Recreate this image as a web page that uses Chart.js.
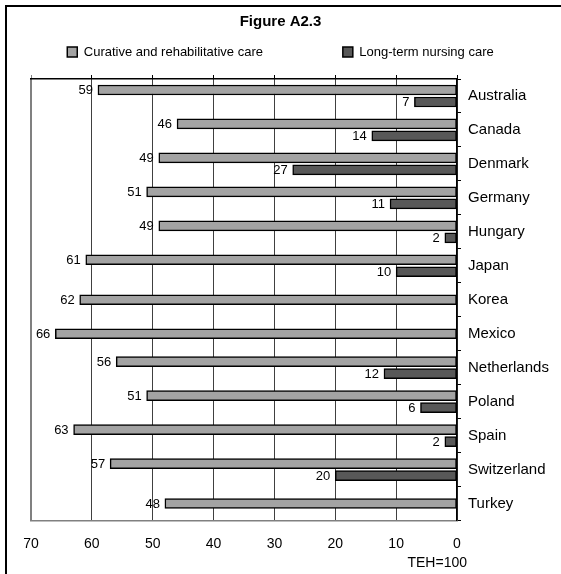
<!DOCTYPE html>
<html>
<head>
<meta charset="utf-8">
<script src="https://cdn.jsdelivr.net/npm/chart.js@4.4.1/dist/chart.umd.min.js"></script>
<style>
  html, body { margin: 0; padding: 0; background: #fff; }
  #wrap { position: relative; width: 561px; height: 574px; overflow: hidden; background: #fff; }
  #c { position: absolute; left: 0; top: 0; }
  #frame { position: absolute; left: 5px; top: 5px; width: 700px; height: 700px;
           border-left: 2px solid #000; border-top: 2px solid #000; box-sizing: border-box; pointer-events: none; }
</style>
</head>
<body>
<div id="wrap"><canvas id="c" width="561" height="574"></canvas><div id="frame"></div></div>
<script>
// ---- data ----
const chartTitle = 'Figure A2.3';
const countries = ['Australia', 'Canada', 'Denmark', 'Germany', 'Hungary', 'Japan', 'Korea',
                   'Mexico', 'Netherlands', 'Poland', 'Spain', 'Switzerland', 'Turkey'];
const seriesNames = ['Curative and rehabilitative care', 'Long-term nursing care'];
const curativeCare = [59, 46, 49, 51, 49, 61, 62, 66, 56, 51, 63, 57, 48];
const longTermCare = [7, 14, 27, 11, 2, 10, null, null, 12, 6, 2, 20, null];
const axisMin = 0, axisMax = 70, axisStep = 10;
const axisNote = 'TEH=100';

// ---- styling ----
const FONT = '"Liberation Sans", Arial, Helvetica, sans-serif';
Chart.defaults.font.family = FONT;
Chart.defaults.color = '#000';
const SLOT = 12;      // space reserved for each bar
const DRAWN = 10;     // drawn bar thickness (leaves a small gap between paired bars)
const PLOT_LEFT = 31; // left edge of the plot area
const Y_AXIS_WIDTH = 104;

const thinBars = {
  id: 'thinBars',
  beforeDatasetsDraw(chart) {
    chart.data.datasets.forEach((ds, di) => {
      chart.getDatasetMeta(di).data.forEach(el => { el.height = DRAWN; });
    });
  }
};

const valueLabels = {
  id: 'valueLabels',
  afterDatasetsDraw(chart) {
    const ctx = chart.ctx;
    ctx.save();
    ctx.font = '13px ' + FONT;
    ctx.fillStyle = '#000';
    ctx.textAlign = 'right';
    ctx.textBaseline = 'middle';
    chart.data.datasets.forEach((ds, di) => {
      const meta = chart.getDatasetMeta(di);
      meta.data.forEach((el, i) => {
        const v = ds.data[i];
        if (v === null || v === undefined) return;
        ctx.fillText(String(v), el.x - 5, el.y + 0.5);
      });
    });
    ctx.restore();
  }
};

const axisNoteLabel = {
  id: 'axisNoteLabel',
  afterDraw(chart) {
    const s = chart.scales.x;
    const ctx = chart.ctx;
    ctx.save();
    ctx.font = '14px ' + FONT;
    ctx.fillStyle = '#000';
    ctx.textAlign = 'right';
    ctx.textBaseline = 'middle';
    ctx.fillText(axisNote, s.right + 10, s.bottom + 10.7);
    ctx.restore();
  }
};

const SPACER = '\u00a0'.repeat(12);

new Chart(document.getElementById('c'), {
  type: 'bar',
  data: {
    labels: countries,
    datasets: [
      { label: seriesNames[0], data: curativeCare, backgroundColor: '#a3a3a3',
        borderColor: '#000', borderWidth: 1.5, borderSkipped: false,
        barThickness: SLOT, skipNull: true },
      { label: seriesNames[1], data: longTermCare, backgroundColor: '#585858',
        borderColor: '#000', borderWidth: 1.5, borderSkipped: false,
        barThickness: SLOT, skipNull: true }
    ]
  },
  options: {
    indexAxis: 'y',
    responsive: false,
    animation: false,
    devicePixelRatio: 1,
    layout: { padding: { left: 0, right: 0, top: 0, bottom: 21.7 } },
    scales: {
      x: {
        type: 'linear', position: 'bottom', reverse: true,
        min: axisMin, max: axisMax,
        afterFit: s => { s.paddingLeft = PLOT_LEFT; },
        ticks: { stepSize: axisStep, padding: 0, font: { size: 14 }, color: '#000' },
        grid: {
          drawOnChartArea: true, drawTicks: true, tickLength: 15,
          tickColor: 'rgba(0,0,0,0)',
          color: c => (c.tick && c.tick.value === axisMax) ? '#808080' : '#404040',
          lineWidth: c => (c.tick && c.tick.value === axisMax) ? 2 : 1
        },
        border: { display: true, color: '#808080', width: 1.5 }
      },
      x2: {
        type: 'linear', position: 'top', reverse: true,
        min: axisMin, max: axisMax,
        ticks: { stepSize: axisStep, padding: 0, callback: () => '',
                 font: { size: 5, lineHeight: 1.3 } },
        grid: {
          drawOnChartArea: false, drawTicks: true, tickLength: 4,
          color: c => (c.tick && c.tick.value === axisMax) ? '#808080' : '#000',
          lineWidth: 1
        },
        border: { display: true, color: '#000', width: 1.5 }
      },
      y: {
        type: 'category', position: 'right', offset: true,
        afterFit: s => { s.width = Y_AXIS_WIDTH; },
        ticks: { padding: 7, font: { size: 15 }, color: '#000' },
        grid: { drawOnChartArea: false, drawTicks: true, tickLength: 4,
                offset: true, color: '#000', lineWidth: 1 },
        border: { display: true, color: '#000', width: 1.5 }
      }
    },
    plugins: {
      title: {
        display: true, text: chartTitle, color: '#000',
        font: { size: 15, weight: 'bold' },
        padding: { top: 12.5, bottom: 5 }
      },
      legend: {
        display: true, position: 'top', align: 'center',
        onClick: () => {},
        labels: {
          color: '#000', boxWidth: 10, boxHeight: 10, padding: 10,
          font: { size: 13 },
          generateLabels(chart) {
            const items = Chart.defaults.plugins.legend.labels.generateLabels(chart);
            items.splice(1, 0, { text: SPACER, fillStyle: 'rgba(0,0,0,0)',
              strokeStyle: 'rgba(0,0,0,0)', lineWidth: 0, hidden: false, datasetIndex: -1 });
            return items;
          }
        }
      },
      tooltip: { enabled: false }
    }
  },
  plugins: [thinBars, valueLabels, axisNoteLabel]
});
</script>
</body>
</html>
